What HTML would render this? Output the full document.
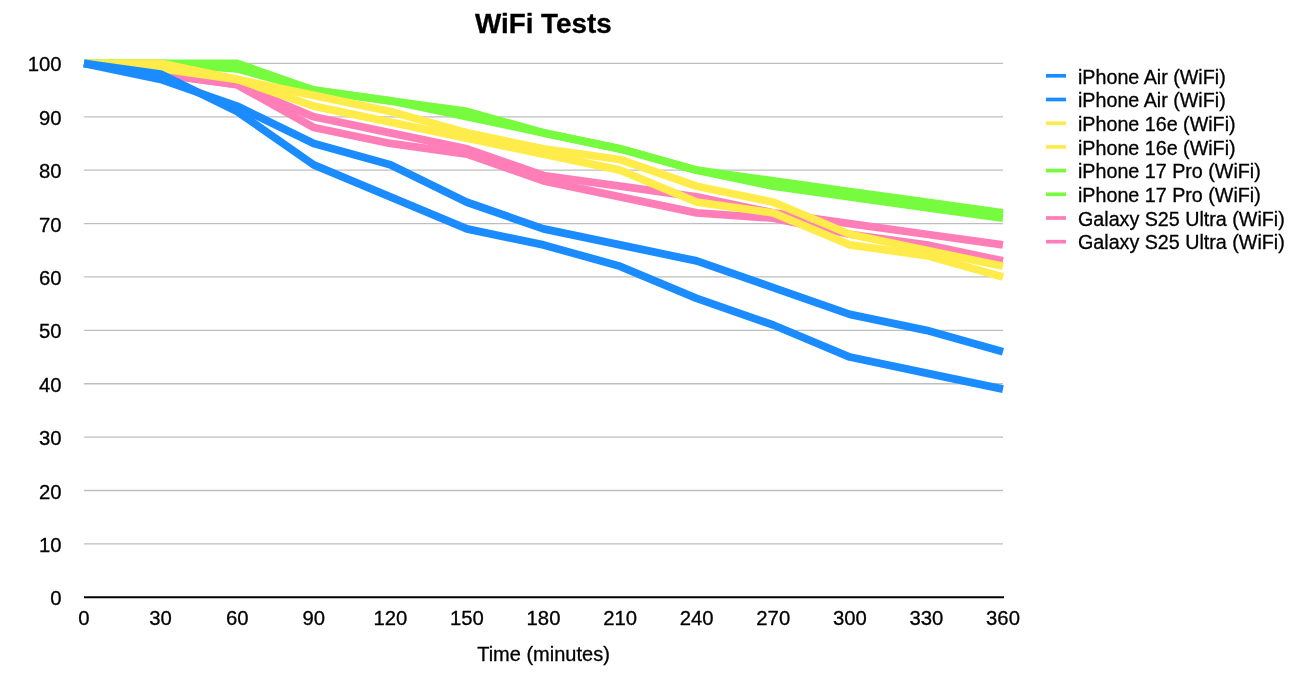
<!DOCTYPE html>
<html><head><meta charset="utf-8"><title>WiFi Tests</title>
<style>
html,body{margin:0;padding:0;background:#fff;}
body{width:1300px;height:687px;overflow:hidden;position:relative;font-family:"Liberation Sans",sans-serif;}
svg{position:absolute;left:0;top:0;}
svg text{font-family:"Liberation Sans",sans-serif;fill:#000;stroke:#000;stroke-width:0.3px;}
</style></head><body>
<svg width="1300" height="687" viewBox="0 0 1300 687">
<line x1="84.0" x2="1003.0" y1="543.91" y2="543.91" stroke="#bebebe" stroke-width="1.3"/>
<line x1="84.0" x2="1003.0" y1="490.52" y2="490.52" stroke="#bebebe" stroke-width="1.3"/>
<line x1="84.0" x2="1003.0" y1="437.13" y2="437.13" stroke="#bebebe" stroke-width="1.3"/>
<line x1="84.0" x2="1003.0" y1="383.74" y2="383.74" stroke="#bebebe" stroke-width="1.3"/>
<line x1="84.0" x2="1003.0" y1="330.35" y2="330.35" stroke="#bebebe" stroke-width="1.3"/>
<line x1="84.0" x2="1003.0" y1="276.96" y2="276.96" stroke="#bebebe" stroke-width="1.3"/>
<line x1="84.0" x2="1003.0" y1="223.57" y2="223.57" stroke="#bebebe" stroke-width="1.3"/>
<line x1="84.0" x2="1003.0" y1="170.18" y2="170.18" stroke="#bebebe" stroke-width="1.3"/>
<line x1="84.0" x2="1003.0" y1="116.79" y2="116.79" stroke="#bebebe" stroke-width="1.3"/>
<line x1="84.0" x2="1003.0" y1="63.40" y2="63.40" stroke="#bebebe" stroke-width="1.3"/>
<polyline points="84.00,63.40 160.58,74.08 237.17,84.76 313.75,127.47 390.33,143.48 466.92,154.16 543.50,180.86 620.08,196.88 696.67,212.89 773.25,218.23 849.83,234.25 926.42,244.93 1003.00,260.94" fill="none" stroke="#FF7EB8" stroke-width="7.8" stroke-linejoin="round" stroke-linecap="butt"/>
<polyline points="84.00,63.40 160.58,74.08 237.17,84.76 313.75,116.79 390.33,132.81 466.92,148.82 543.50,175.52 620.08,186.20 696.67,196.88 773.25,212.89 849.83,223.57 926.42,234.25 1003.00,244.93" fill="none" stroke="#FF7EB8" stroke-width="7.8" stroke-linejoin="round" stroke-linecap="butt"/>
<polyline points="84.00,63.40 160.58,63.40 237.17,68.74 313.75,90.09 390.33,100.77 466.92,116.79 543.50,132.81 620.08,148.82 696.67,170.18 773.25,186.20 849.83,196.88 926.42,207.55 1003.00,218.23" fill="none" stroke="#77FB3E" stroke-width="7.8" stroke-linejoin="round" stroke-linecap="butt"/>
<polyline points="84.00,63.40 160.58,63.40 237.17,63.40 313.75,90.09 390.33,100.77 466.92,111.45 543.50,132.81 620.08,148.82 696.67,170.18 773.25,180.86 849.83,191.54 926.42,202.21 1003.00,212.89" fill="none" stroke="#77FB3E" stroke-width="7.8" stroke-linejoin="round" stroke-linecap="butt"/>
<polyline points="84.00,63.40 160.58,68.74 237.17,79.42 313.75,106.11 390.33,122.13 466.92,138.15 543.50,154.16 620.08,170.18 696.67,202.21 773.25,212.89 849.83,244.93 926.42,255.60 1003.00,276.96" fill="none" stroke="#FFEC4A" stroke-width="7.8" stroke-linejoin="round" stroke-linecap="butt"/>
<polyline points="84.00,63.40 160.58,63.40 237.17,79.42 313.75,95.43 390.33,111.45 466.92,132.81 543.50,148.82 620.08,159.50 696.67,186.20 773.25,202.21 849.83,234.25 926.42,250.27 1003.00,266.28" fill="none" stroke="#FFEC4A" stroke-width="7.8" stroke-linejoin="round" stroke-linecap="butt"/>
<polyline points="84.00,63.40 160.58,74.08 237.17,111.45 313.75,164.84 390.33,196.88 466.92,228.91 543.50,244.93 620.08,266.28 696.67,298.32 773.25,325.01 849.83,357.04 926.42,373.06 1003.00,389.08" fill="none" stroke="#1A8CFF" stroke-width="7.8" stroke-linejoin="round" stroke-linecap="butt"/>
<polyline points="84.00,63.40 160.58,79.42 237.17,106.11 313.75,143.48 390.33,164.84 466.92,202.21 543.50,228.91 620.08,244.93 696.67,260.94 773.25,287.64 849.83,314.33 926.42,330.35 1003.00,351.71" fill="none" stroke="#1A8CFF" stroke-width="7.8" stroke-linejoin="round" stroke-linecap="butt"/>
<line x1="84.0" x2="1004.0" y1="597.3" y2="597.3" stroke="#000" stroke-width="2.1"/>
<text x="61.6" y="605.30" font-size="20.3" text-anchor="end">0</text>
<text x="61.6" y="551.91" font-size="20.3" text-anchor="end">10</text>
<text x="61.6" y="498.52" font-size="20.3" text-anchor="end">20</text>
<text x="61.6" y="445.13" font-size="20.3" text-anchor="end">30</text>
<text x="61.6" y="391.74" font-size="20.3" text-anchor="end">40</text>
<text x="61.6" y="338.35" font-size="20.3" text-anchor="end">50</text>
<text x="61.6" y="284.96" font-size="20.3" text-anchor="end">60</text>
<text x="61.6" y="231.57" font-size="20.3" text-anchor="end">70</text>
<text x="61.6" y="178.18" font-size="20.3" text-anchor="end">80</text>
<text x="61.6" y="124.79" font-size="20.3" text-anchor="end">90</text>
<text x="61.6" y="71.40" font-size="20.3" text-anchor="end">100</text>
<text x="84.00" y="624.8" font-size="20.3" text-anchor="middle">0</text>
<text x="160.58" y="624.8" font-size="20.3" text-anchor="middle">30</text>
<text x="237.17" y="624.8" font-size="20.3" text-anchor="middle">60</text>
<text x="313.75" y="624.8" font-size="20.3" text-anchor="middle">90</text>
<text x="390.33" y="624.8" font-size="20.3" text-anchor="middle">120</text>
<text x="466.92" y="624.8" font-size="20.3" text-anchor="middle">150</text>
<text x="543.50" y="624.8" font-size="20.3" text-anchor="middle">180</text>
<text x="620.08" y="624.8" font-size="20.3" text-anchor="middle">210</text>
<text x="696.67" y="624.8" font-size="20.3" text-anchor="middle">240</text>
<text x="773.25" y="624.8" font-size="20.3" text-anchor="middle">270</text>
<text x="849.83" y="624.8" font-size="20.3" text-anchor="middle">300</text>
<text x="926.42" y="624.8" font-size="20.3" text-anchor="middle">330</text>
<text x="1003.00" y="624.8" font-size="20.3" text-anchor="middle">360</text>
<text x="543.5" y="660.9" font-size="20" text-anchor="middle">Time (minutes)</text>
<text x="543.3" y="33.3" font-size="27.8" font-weight="bold" stroke="#000" stroke-width="0.35" text-anchor="middle">WiFi Tests</text>
<line x1="1046" x2="1066" y1="75.80" y2="75.80" stroke="#1A8CFF" stroke-width="3.7"/>
<text x="1078" y="83.50" font-size="19.7">iPhone Air (WiFi)</text>
<line x1="1046" x2="1066" y1="99.50" y2="99.50" stroke="#1A8CFF" stroke-width="3.7"/>
<text x="1078" y="107.20" font-size="19.7">iPhone Air (WiFi)</text>
<line x1="1046" x2="1066" y1="123.20" y2="123.20" stroke="#FFEC4A" stroke-width="3.7"/>
<text x="1078" y="130.90" font-size="19.7">iPhone 16e (WiFi)</text>
<line x1="1046" x2="1066" y1="146.90" y2="146.90" stroke="#FFEC4A" stroke-width="3.7"/>
<text x="1078" y="154.60" font-size="19.7">iPhone 16e (WiFi)</text>
<line x1="1046" x2="1066" y1="170.60" y2="170.60" stroke="#77FB3E" stroke-width="3.7"/>
<text x="1078" y="178.30" font-size="19.7">iPhone 17 Pro (WiFi)</text>
<line x1="1046" x2="1066" y1="194.30" y2="194.30" stroke="#77FB3E" stroke-width="3.7"/>
<text x="1078" y="202.00" font-size="19.7">iPhone 17 Pro (WiFi)</text>
<line x1="1046" x2="1066" y1="218.00" y2="218.00" stroke="#FF7EB8" stroke-width="3.7"/>
<text x="1078" y="225.70" font-size="19.7">Galaxy S25 Ultra (WiFi)</text>
<line x1="1046" x2="1066" y1="241.70" y2="241.70" stroke="#FF7EB8" stroke-width="3.7"/>
<text x="1078" y="249.40" font-size="19.7">Galaxy S25 Ultra (WiFi)</text>
</svg>
</body></html>
